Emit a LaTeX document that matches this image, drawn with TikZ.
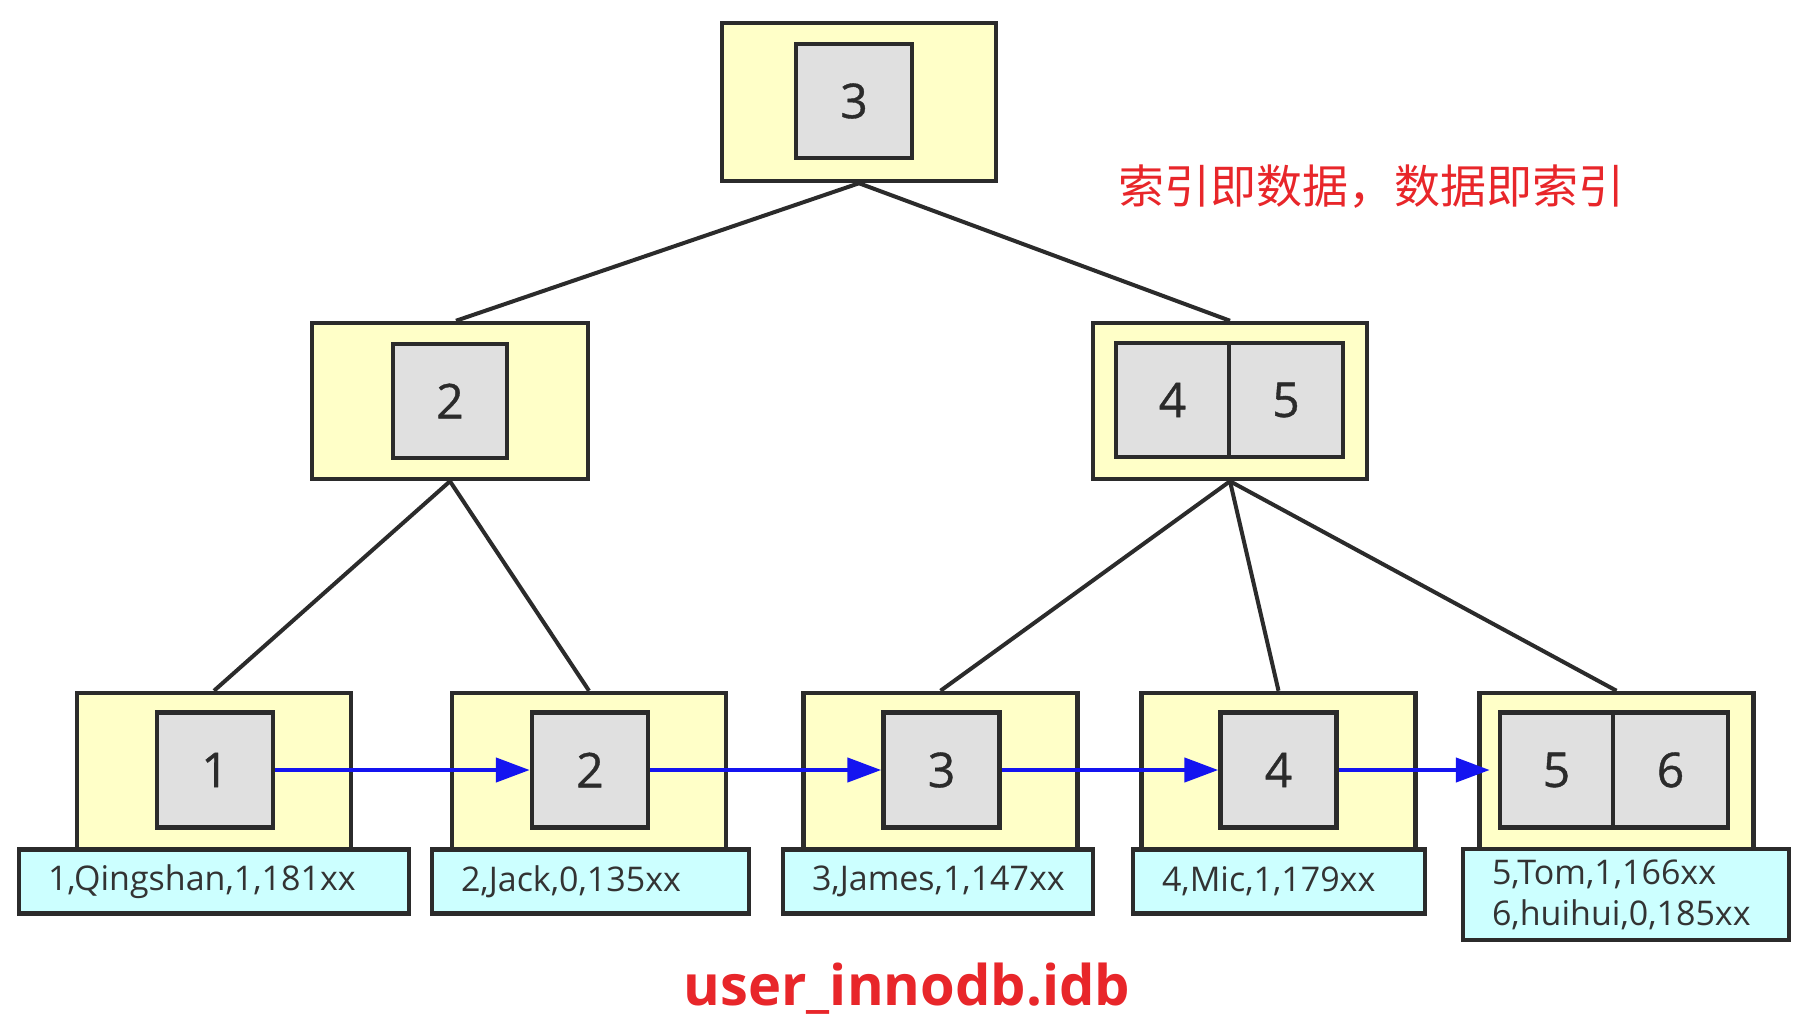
\documentclass[tikz,border=0pt]{standalone}
\usepackage{fontspec}
\setmainfont{Open Sans}
\newfontfamily\cjk{Noto Sans CJK SC}
\newfontfamily\keyfont[FakeBold=0.8]{Open Sans}
\usetikzlibrary{arrows.meta}
\definecolor{linec}{HTML}{2B2B2B}
\definecolor{yelc}{HTML}{FFFFC8}
\definecolor{grayc}{HTML}{E0E0E0}
\definecolor{cyanc}{HTML}{CCFFFF}
\definecolor{textc}{HTML}{333333}
\definecolor{bluec}{HTML}{1414F0}
\definecolor{redc}{HTML}{E8262A}
\begin{document}
\begin{tikzpicture}[x=1pt,y=-1pt,
  outerbox/.style={draw=linec, fill=yelc, line width=4.5pt, inner sep=0pt},
  keybox/.style={draw=linec, fill=grayc, line width=4.5pt, inner sep=0pt,
    font=\keyfont\fontsize{48}{52}\selectfont, text=linec},
  databox/.style={draw=linec, fill=cyanc, line width=4.5pt, inner ysep=0pt,
    inner xsep=29pt, align=left, text=textc,
    font=\fontsize{34}{41}\selectfont},
  treeline/.style={draw=linec, line width=4pt},
  nextptr/.style={draw=bluec, line width=4.5pt,
    -{Triangle[length=34pt,width=24pt]}}
]
\useasboundingbox (0,0) rectangle (1798,1018);
\fill[white] (0,0) rectangle (1798,1018);

% root
\node[outerbox, minimum width=274pt, minimum height=158pt] (root) at (859,102) {};
\node[keybox, minimum width=116pt, minimum height=114pt] (k3) at (854,101) {3};

% level 2
\node[outerbox, minimum width=276pt, minimum height=156pt] (la) at (450,401) {};
\node[keybox, minimum width=114pt, minimum height=114pt] (k2) at (450,401) {2};
\node[outerbox, minimum width=274pt, minimum height=156pt] (lb) at (1230,401) {};
\node[keybox, minimum width=113pt, minimum height=114pt] (k4) at (1172.5,400) {4};
\node[keybox, minimum width=114pt, minimum height=114pt] (k5) at (1286,400) {5};

% leaves
\node[outerbox, minimum width=274pt, minimum height=156pt] (p1) at (214,771) {};
\node[outerbox, minimum width=274pt, minimum height=156pt] (p2) at (589,771) {};
\node[outerbox, minimum width=274pt, minimum height=156pt] (p3) at (940.5,771) {};
\node[outerbox, minimum width=274pt, minimum height=156pt] (p4) at (1278.5,771) {};
\node[outerbox, minimum width=274pt, minimum height=156pt] (p5) at (1616.5,771) {};

\node[keybox, minimum width=116pt, minimum height=115pt] (d1) at (215,770) {1};
\node[keybox, minimum width=116pt, minimum height=115pt] (d2) at (590,770) {2};
\node[keybox, minimum width=116pt, minimum height=115pt] (d3) at (941.5,770) {3};
\node[keybox, minimum width=116pt, minimum height=115pt] (d4) at (1278.5,770) {4};
\node[keybox, minimum width=113pt, minimum height=115pt] (d5) at (1556.5,770) {5};
\node[keybox, minimum width=115pt, minimum height=115pt] (d6) at (1670.5,770) {6};

% data rows
\node[databox, text width=332pt, minimum height=64pt] (r1) at (214,881.5) {1,Qingshan,1,181xx};
\node[databox, text width=259pt, minimum height=64pt] (r2) at (590.5,881.5) {2,Jack,0,135xx};
\node[databox, text width=252pt, minimum height=64pt] (r3) at (938,881.5) {3,James,1,147xx};
\node[databox, text width=234pt, minimum height=64pt] (r4) at (1279,881.5) {4,Mic,1,179xx};
\node[databox, text width=268pt, minimum height=91pt] (r5) at (1626,894.5) {5,Tom,1,166xx\\6,huihui,0,185xx};

% tree edges
\draw[treeline] (root.south) -- ([xshift=6pt]la.north);
\draw[treeline] (root.south) -- (lb.north);
\draw[treeline] (la.south) -- (p1.north);
\draw[treeline] (la.south) -- (p2.north);
\draw[treeline] (lb.south) -- (p3.north);
\draw[treeline] (lb.south) -- (p4.north);
\draw[treeline] (lb.south) -- (p5.north);

% leaf pointers
\draw[nextptr] (d1.east) -- (d2.west);
\draw[nextptr] (d2.east) -- (d3.west);
\draw[nextptr] (d3.east) -- (d4.west);
\draw[nextptr] (d4.east) -- ([xshift=-8pt]d5.west);

% captions
\node[text=redc, font=\cjk\fontsize{46}{50}\selectfont, anchor=base] (cap) at (1371,203) {索引即数据，数据即索引};
\node[text=redc, font=\fontsize{56}{60}\selectfont\bfseries, anchor=base] (file) at (907,1005) {user\_innodb.idb};
\end{tikzpicture}
\end{document}
